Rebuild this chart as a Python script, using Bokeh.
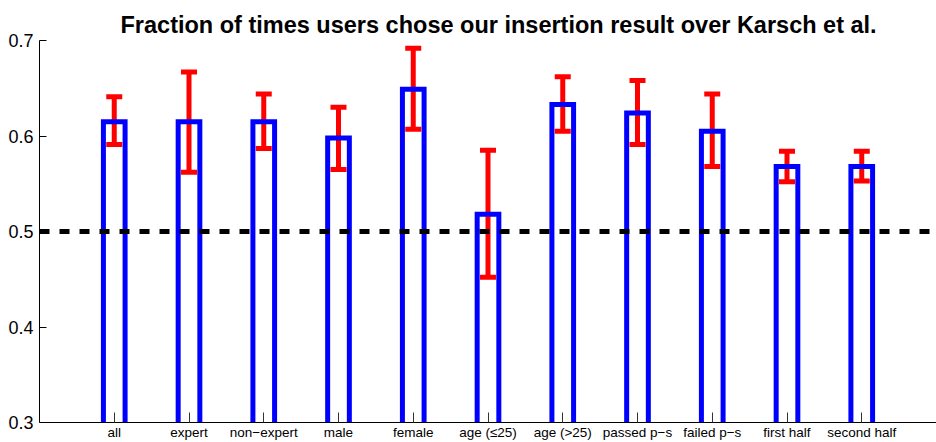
from bokeh.plotting import figure
from bokeh.models import (Range1d, FixedTicker, Whisker, Span, ColumnDataSource,
                          TeeHead, PrintfTickFormatter)
from bokeh.embed import file_html
from bokeh.resources import INLINE

# ---- data ----
categories = ["all", "expert", "non\u2212expert", "male", "female", "age (\u226425)",
              "age (>25)", "passed p\u2212s", "failed p\u2212s", "first half", "second half"]
fractions = [0.615, 0.615, 0.615, 0.598, 0.649, 0.518, 0.633, 0.624, 0.605, 0.568, 0.568]
err_upper = [0.641, 0.667, 0.644, 0.630, 0.692, 0.585, 0.662, 0.658, 0.644, 0.584, 0.584]
err_lower = [0.591, 0.562, 0.587, 0.565, 0.607, 0.452, 0.605, 0.591, 0.568, 0.552, 0.553]
chance_level = 0.5
y_ticks = [0.3, 0.4, 0.5, 0.6, 0.7]
title_text = "Fraction of times users chose our insertion result over Karsch et al."

Y0, Y1 = 0.3, 0.7
BAR_W = 0.29
FONT = "Liberation Sans"

xs = list(range(1, len(categories) + 1))
src = ColumnDataSource(dict(x=xs, top=fractions, upper=err_upper, lower=err_lower))
# open outlines (no bottom edge) for the hollow bars, built from the data
bar_xs = [[x - BAR_W / 2, x - BAR_W / 2, x + BAR_W / 2, x + BAR_W / 2] for x in xs]
bar_ys = [[Y0 - 0.01, t, t, Y0 - 0.01] for t in fractions]

p = figure(width=936, height=442, output_backend="svg", toolbar_location=None,
           x_range=Range1d(0, 12), y_range=Range1d(Y0, Y1),
           min_border_left=39, min_border_right=0, min_border_bottom=18,
           min_border_top=40, title=title_text)
p.outline_line_color = None
p.xgrid.visible = False
p.ygrid.visible = False

p.title.align = "left"
p.title.text_font = FONT
p.title.text_font_size = "23.5px"
p.title.text_font_style = "bold"
p.title.text_color = "black"
p.title.offset = 81
p.title.standoff = 6

# bars (hollow outlines)
p.multi_line(bar_xs, bar_ys, line_color="#0000ff", line_width=5, line_join="miter")

# chance level
p.add_layout(Span(location=chance_level, dimension="width", line_color="black",
                  line_width=5, line_dash="10 10"))

# error bars
w = Whisker(base="x", upper="upper", lower="lower", source=src,
            line_color="#ff0000", line_width=5,
            upper_head=TeeHead(size=16, line_color="#ff0000", line_width=5),
            lower_head=TeeHead(size=16, line_color="#ff0000", line_width=5))
p.add_layout(w)

# axes
xa = p.xaxis[0]
xa.ticker = FixedTicker(ticks=xs)
xa.major_label_overrides = {x: c for x, c in zip(xs, categories)}
xa.major_label_text_font = FONT
xa.major_label_text_font_size = "13.5px"
xa.major_label_text_color = "black"
xa.major_label_standoff = 2
xa.major_tick_in = 10
xa.major_tick_out = 0
xa.minor_tick_line_color = None
xa.axis_line_color = "black"
xa.major_tick_line_color = "#333333"

ya = p.yaxis[0]
ya.ticker = FixedTicker(ticks=y_ticks)
ya.formatter = PrintfTickFormatter(format="%.1f")
ya.major_tick_in = 7
ya.major_tick_out = 0
ya.minor_tick_line_color = None
ya.major_label_standoff = 6
ya.major_label_text_font = FONT
ya.major_label_text_font_size = "18px"
ya.major_label_text_color = "black"
ya.axis_line_color = "black"

open("out.html", "w").write(file_html(p, INLINE))
